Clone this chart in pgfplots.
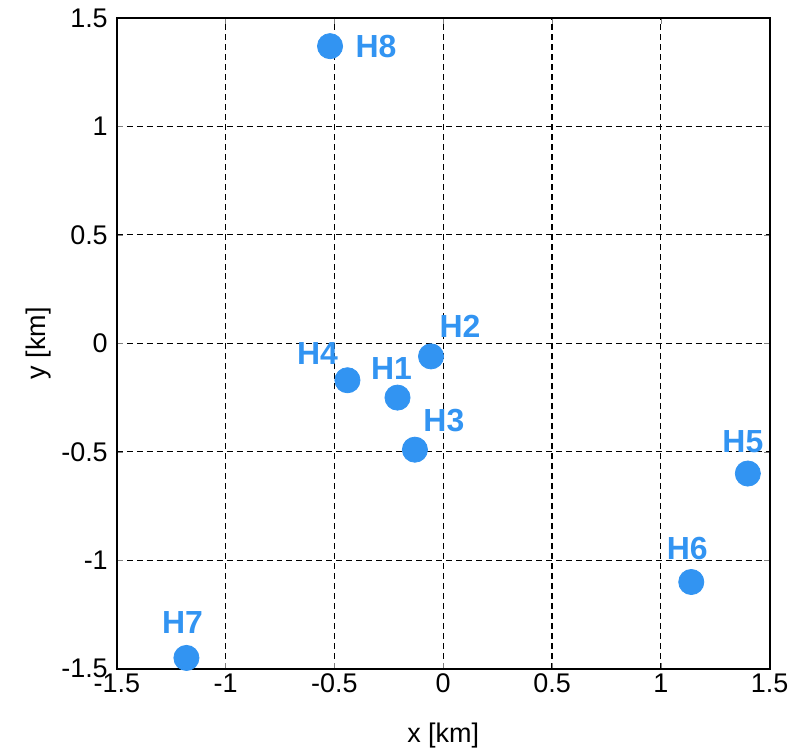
\documentclass[border=0pt]{standalone}
\usepackage{pgfplots}
\pgfplotsset{compat=1.18}
\usepackage{fontspec}
\setmainfont{Liberation Sans}
\definecolor{myblue}{RGB}{50,148,242}
\begin{document}
\begin{tikzpicture}
\begin{axis}[name=ax, at={(0,0)}, anchor=south west,
  scale only axis, width=327pt, height=326pt,
  xmin=-1.5, xmax=1.5, ymin=-1.5, ymax=1.5,
  xtick={-1.5,-1,-0.5,0,0.5,1,1.5},
  ytick={-1.5,-1,-0.5,0,0.5,1,1.5},
  xticklabels={-1.5,-1,-0.5,0,0.5,1,1.5},
  yticklabels={-1.5,-1,-0.5,0,0.5,1,1.5},
  tick label style={font=\fontsize{13.5}{15}\selectfont},
  xticklabel style={yshift=1pt},
  yticklabel style={xshift=-1pt},
  major tick length=3pt, tick align=inside,
  grid=major, major grid style={black, line width=0.55pt, dash pattern=on 3pt off 2pt},
  axis line style={black, line width=0.9pt},
  xlabel={x [km]}, ylabel={y [km]},
  label style={font=\fontsize{13.5}{15}\selectfont},
  xlabel style={yshift=-8pt},
  ylabel style={yshift=-2pt},
  clip=false,
]
\addplot[only marks, mark=*, mark size=6.3pt, color=myblue,
  nodes near coords, point meta=explicit symbolic,
  visualization depends on={\thisrow{dx}\as\dx},
  visualization depends on={\thisrow{dy}\as\dy},
  every node near coord/.append style={anchor=center, xshift=\dx pt, yshift=\dy pt,
     font=\fontsize{16}{18}\selectfont\bfseries, text=myblue, inner sep=0pt}]
 table[meta=label] {
x y label dx dy
-0.21 -0.25 H1 -3 14.5
-0.056 -0.06 H2 14.5 15
-0.13 -0.49 H3 14.5 14.5
-0.44 -0.17 H4 -15 13.5
1.40 -0.60 H5 -2.5 16
1.14 -1.10 H6 -2 17
-1.18 -1.45 H7 -2 17.5
-0.52 1.37 H8 23 0
};
\end{axis}
\path[use as bounding box] (ax.south west) ++(-58.5pt,-40.5pt) rectangle ++(397.5pt,375.5pt);
\end{tikzpicture}
\end{document}
